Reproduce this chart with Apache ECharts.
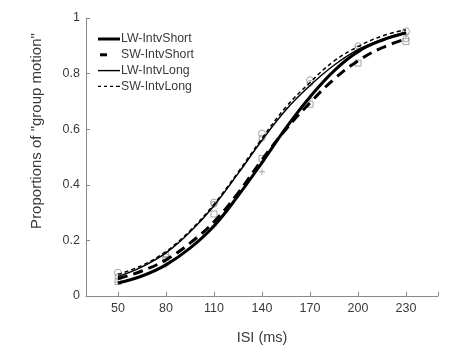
<!DOCTYPE html>
<html>
<head>
<meta charset="utf-8">
<script src="https://cdn.jsdelivr.net/npm/echarts@6/dist/echarts.min.js"></script>
<style>
html,body{margin:0;padding:0;background:#fff;}
#chart{width:474px;height:363px;}
</style>
</head>
<body>
<div id="chart"></div>
<script>
// ISI values (ms) at which curve values were read
var curveX = [50, 65, 80, 95, 110, 125, 140, 155, 170, 185, 200, 215, 230];
// Fitted curves
var lwShortCurve = [0.047, 0.072, 0.112, 0.172, 0.252, 0.36, 0.48, 0.605, 0.716, 0.81, 0.879, 0.92, 0.947];
var swShortCurve = [0.062, 0.09, 0.13, 0.19, 0.267, 0.37, 0.49, 0.6, 0.695, 0.78, 0.846, 0.893, 0.925];
var lwLongCurve  = [0.07, 0.105, 0.155, 0.23, 0.325, 0.44, 0.56, 0.67, 0.757, 0.83, 0.886, 0.923, 0.948];
var swLongCurve  = [0.078, 0.11, 0.16, 0.235, 0.33, 0.445, 0.567, 0.68, 0.768, 0.845, 0.897, 0.935, 0.958];

// Observed data points
var isi = [50, 80, 110, 140, 170, 200, 230];
var lwShortObs = [0.05, 0.112, 0.252, 0.447, 0.71, 0.88, 0.94];
var swShortObs = [0.052, 0.13, 0.295, 0.495, 0.69, 0.838, 0.915];
var lwLongObs  = [0.084, 0.139, 0.336, 0.584, 0.776, 0.888, 0.952];
var swLongObs  = [0.07, 0.15, 0.33, 0.568, 0.765, 0.9, 0.925];

var xTickLabels = [50, 80, 110, 140, 170, 200, 230];
var yTickLabels = [0, 0.2, 0.4, 0.6, 0.8, 1];
var seriesNames = ['LW-IntvShort', 'SW-IntvShort', 'LW-IntvLong', 'SW-IntvLong'];

function pairs(xs, ys) { return xs.map(function (x, i) { return [x, ys[i]]; }); }

var textColor = '#3a3a3a';
var axisColor = '#8a8a8a';
var markColor = '#909090';
var font = 'Arial, "Liberation Sans", sans-serif';

// legend icons: 23x14 box (corner anchors keep the box), filled bars drawn inside
var box = 'M0,0L0,0M23,14L23,14';
var legendIcons = [
  'path://' + box + 'M1,5.5H23V8.5H1Z',
  'path://' + box + 'M3,5.5H10V8.5H3Z',
  'path://' + box + 'M1,6.3H23V7.7H1Z',
  'path://' + box + 'M1,6.3H4V7.7H1ZM7,6.3H10V7.7H7ZM13,6.3H16V7.7H13ZM19,6.3H23V7.7H19Z'
];

function lineSeries(name, data, width, type) {
  return {
    name: name, type: 'line', data: pairs(curveX, data), smooth: 0.4,
    symbol: 'none', z: 5,
    lineStyle: { color: '#000', width: width, type: type },
    itemStyle: { color: '#000' }
  };
}
function scatterSeries(data, symbol, size) {
  return {
    type: 'scatter', data: pairs(isi, data), symbol: symbol, symbolSize: size, z: 2,
    itemStyle: { color: 'none', borderColor: markColor, borderWidth: 1 },
    silent: true
  };
}

var chart = echarts.init(document.getElementById('chart'));
chart.setOption({
  animation: false,
  backgroundColor: '#fff',
  grid: { left: 86, right: 36, top: 18, bottom: 67 },
  legend: {
    data: seriesNames.map(function (n, i) {
      return { name: n, icon: legendIcons[i], itemStyle: { color: '#000', borderWidth: 0 } };
    }),
    orient: 'vertical', left: 97, top: 32, padding: 0,
    itemWidth: 23, itemHeight: 14, itemGap: 1.8,
    textStyle: { fontSize: 12.3, color: textColor, fontFamily: font, padding: [0, 0, 0, -4] }
  },
  xAxis: {
    type: 'value', min: 30, max: 250,
    name: 'ISI (ms)', nameLocation: 'middle', nameGap: 34,
    nameTextStyle: { fontSize: 14.5, color: textColor, fontFamily: font },
    axisLine: { show: true, lineStyle: { color: axisColor } },
    axisTick: { show: true, inside: true, length: 4, lineStyle: { color: axisColor }, customValues: xTickLabels.concat([250]) },
    axisLabel: { fontSize: 12.5, color: textColor, fontFamily: font, margin: 6, customValues: xTickLabels },
    splitLine: { show: false }
  },
  yAxis: {
    type: 'value', min: 0, max: 1, interval: 0.2,
    axisLine: { show: true, lineStyle: { color: axisColor } },
    axisTick: { show: true, inside: true, length: 4, lineStyle: { color: axisColor } },
    axisLabel: { fontSize: 12.5, color: textColor, fontFamily: font, margin: 6,
      formatter: function (v) { return String(Math.round(v * 10) / 10); } },
    splitLine: { show: false }
  },
  graphic: [{
    type: 'text', x: 37, y: 131, rotation: Math.PI / 2,
    style: { text: 'Proportions of "group motion"', fontSize: 15, fill: textColor,
      fontFamily: font, align: 'center', verticalAlign: 'middle' }
  }],
  series: [
    scatterSeries(lwShortObs, 'path://M5,0L5,10M0,5L10,5', 6),
    scatterSeries(swShortObs, 'rect', 6),
    scatterSeries(lwLongObs, 'circle', 7),
    scatterSeries(swLongObs, 'circle', 6),
    lineSeries(seriesNames[0], lwShortCurve, 3, 'solid'),
    lineSeries(seriesNames[1], swShortCurve, 3, [10, 6]),
    lineSeries(seriesNames[2], lwLongCurve, 1.5, 'solid'),
    lineSeries(seriesNames[3], swLongCurve, 1.5, [4, 3])
  ]
});
</script>
</body>
</html>
